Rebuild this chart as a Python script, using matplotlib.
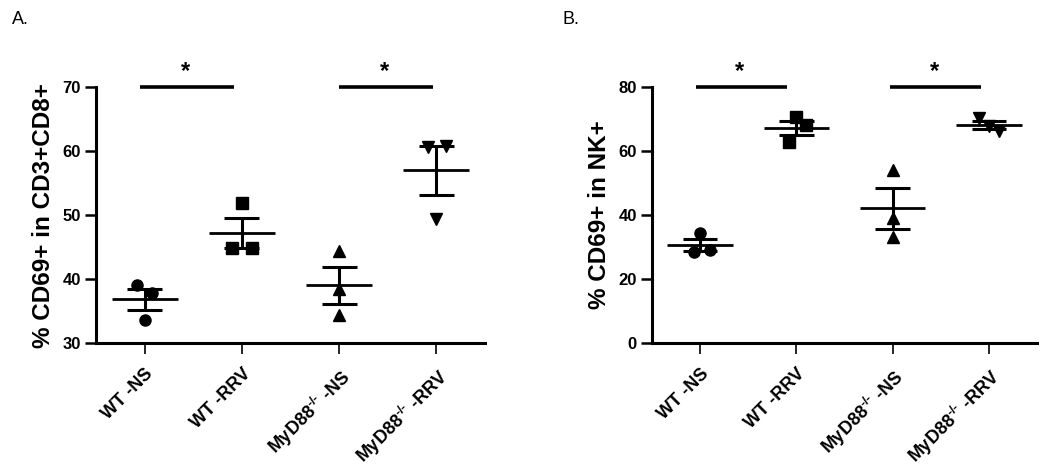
import numpy as np
import matplotlib
matplotlib.use("Agg")
import matplotlib.pyplot as plt

plt.rcParams['font.family'] = ['Liberation Sans', 'DejaVu Sans']
plt.rcParams['mathtext.fontset'] = 'custom'
plt.rcParams['mathtext.rm'] = 'Liberation Sans:bold'
plt.rcParams['mathtext.it'] = 'Liberation Sans:bold'
plt.rcParams['mathtext.bf'] = 'Liberation Sans:bold'

categories = ["WT -NS", "WT -RRV", r"MyD88$^{\text{-/-}}$ -NS", r"MyD88$^{\text{-/-}}$ -RRV"]
markers = ['o', 's', '^', 'v']

# Panel A: % CD69+ in CD3+CD8+
a_wt_ns = [39.1, 37.8, 33.6]
a_wt_rrv = [51.8, 44.8, 44.8]
a_myd_ns = [44.3, 38.4, 34.3]
a_myd_rrv = [60.7, 60.8, 49.4]
a_values = [a_wt_ns, a_wt_rrv, a_myd_ns, a_myd_rrv]
a_offsets = [[-0.08, 0.08, 0.0], [0.0, -0.1, 0.1], [0.0, 0.0, 0.0], [-0.09, 0.1, 0.0]]
a_yticks = [30, 40, 50, 60, 70]
a_ylim = (30, 70)
a_ylabel = "% CD69+ in CD3+CD8+"

# Panel B: % CD69+ in NK+
b_wt_ns = [34.3, 28.3, 29.2]
b_wt_rrv = [70.6, 68.1, 62.9]
b_myd_ns = [54.2, 39.0, 33.0]
b_myd_rrv = [70.4, 67.8, 66.2]
b_values = [b_wt_ns, b_wt_rrv, b_myd_ns, b_myd_rrv]
b_offsets = [[0.0, -0.06, 0.1], [0.0, 0.1, -0.08], [0.0, 0.0, 0.0], [-0.1, 0.0, 0.1]]
b_yticks = [0, 20, 40, 60, 80]
b_ylim = (0, 80)
b_ylabel = "% CD69+ in NK+"

W, H = 1050, 473
fig = plt.figure(figsize=(W / 100, H / 100), dpi=100)


def px(x0, y0, x1, y1):
    return [x0 / W, 1 - y1 / H, (x1 - x0) / W, (y1 - y0) / H]


def panel(ax, values, offsets, yticks, ylim, sig_pairs, star_x):
    for i, (vals, offs) in enumerate(zip(values, offsets)):
        xs = [i + o for o in offs]
        ax.plot(xs, vals, linestyle='none', marker=markers[i], color='black',
                markersize=8, clip_on=False, zorder=3)
        m = np.mean(vals)
        sem = np.std(vals, ddof=1) / np.sqrt(len(vals))
        ax.hlines(m, i - 0.34, i + 0.34, color='black', lw=2, zorder=4)
        ax.hlines([m - sem, m + sem], i - 0.18, i + 0.18, color='black', lw=2.2, zorder=4)
        ax.vlines(i, m - sem, m + sem, color='black', lw=2.2, zorder=4)
    ax.set_xlim(-0.5, 3.5)
    ax.set_ylim(*ylim)
    ax.set_yticks(yticks)
    ax.set_xticks(range(len(categories)))
    ax.set_xticklabels(categories, rotation=45, ha='right', rotation_mode='anchor',
                       fontsize=13, fontweight='bold')
    for lab in ax.get_yticklabels():
        lab.set_fontweight('bold')
    ax.tick_params(axis='y', length=8, width=1.8, labelsize=12, pad=3)
    ax.tick_params(axis='x', length=8, width=1.2, pad=8)
    for s in ['top', 'right']:
        ax.spines[s].set_visible(False)
    for s in ['left', 'bottom']:
        ax.spines[s].set_linewidth(2.2)
    top = ylim[1]
    for (x0, x1), sx in zip(sig_pairs, star_x):
        ax.plot([x0, x1], [top, top], color='black', lw=2.6, clip_on=False,
                solid_capstyle='butt')
        ax.annotate('*', xy=(sx, top), xytext=(0, 3), textcoords='offset points',
                    ha='center', va='bottom', fontsize=17, fontweight='bold',
                    annotation_clip=False)


axA = fig.add_axes(px(96, 87, 485, 343))
panel(axA, a_values, a_offsets, a_yticks, a_ylim,
      [(-0.05, 0.92), (2.0, 2.97)], [0.42, 2.47])
axB = fig.add_axes(px(652, 87, 1037, 343))
panel(axB, b_values, b_offsets, b_yticks, b_ylim,
      [(-0.04, 0.90), (1.97, 2.92)], [0.41, 2.43])

fig.text(44 / W, 1 - 216 / H, a_ylabel, rotation=90, ha='center', va='center',
         fontsize=17.5, fontweight='bold')
fig.text(600 / W, 1 - 215 / H, b_ylabel, rotation=90, ha='center', va='center',
         fontsize=17.5, fontweight='bold')
fig.text(12 / W, 1 - 19 / H, "A.", ha='left', va='center', fontsize=13)
fig.text(562 / W, 1 - 20 / H, "B.", ha='left', va='center', fontsize=13)

fig.savefig("out.png", dpi=100, facecolor='white')
